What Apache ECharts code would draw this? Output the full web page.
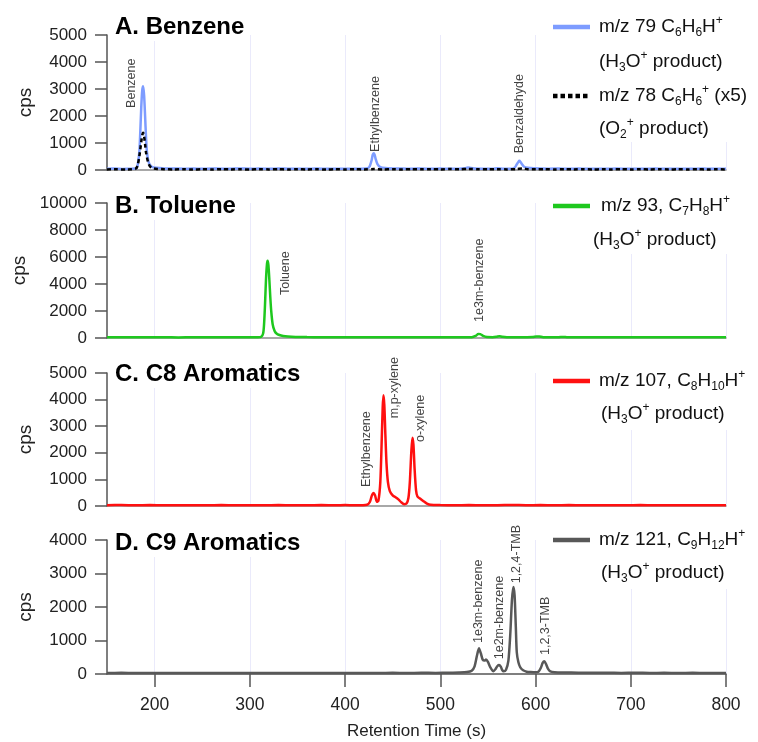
<!DOCTYPE html>
<html><head><meta charset="utf-8">
<script src="https://cdn.jsdelivr.net/npm/echarts@6/dist/echarts.min.js"></script>
<style>html,body{margin:0;padding:0;background:#fff}#c{width:758px;height:742px}</style>
</head><body><div id="c"></div>
<script>
// ---------- DATA ----------
const xTicks = [200, 300, 400, 500, 600, 700, 800];
const panelTitles = ['A. Benzene', 'B. Toluene', 'C. C8 Aromatics', 'D. C9 Aromatics'];
const yMax = [5000, 10000, 5000, 4000];
const yStep = [1000, 2000, 1000, 1000];

// Panel A: m/z 79 (H3O+ product)
const m79 = [[150,45],[158,52],[166,40],[174,48],[180,55],[182,150],[184,700],[185,1450],[186,2350],[187,2950],[188,3100],[189,2750],[190,2000],[191,1200],[192,650],[194,260],[197,120],[202,80],[210,60],[220,55],[230,48],[240,52],[250,44],[260,56],[270,47],[280,50],[290,58],[300,46],[310,52],[320,44],[330,55],[340,47],[350,50],[360,45],[370,52],[380,48],[390,44],[400,50],[410,46],[418,48],[424,70],[426,150],[428,380],[429,560],[430,620],[431,570],[432,420],[434,220],[437,110],[442,75],[450,58],[460,52],[470,48],[480,55],[490,46],[500,52],[510,44],[520,50],[526,68],[529,95],[532,72],[536,55],[545,50],[555,48],[560,62],[565,50],[575,48],[578,80],[580,190],[582,300],[583,340],[584,310],[586,200],[588,120],[592,85],[598,65],[606,56],[615,50],[625,54],[635,46],[645,52],[655,48],[665,50],[675,45],[685,53],[695,47],[705,50],[715,44],[725,52],[735,46],[745,50],[755,48],[765,45],[775,51],[785,46],[795,48],[800,45]];
// Panel A: m/z 78 x5 (O2+ product)
const m78x5 = [[150,20],[160,28],[170,18],[176,25],[180,45],[182,150],[184,520],[186,1050],[187,1290],[188,1380],[189,1240],[190,950],[191,650],[193,300],[195,140],[198,70],[203,40],[210,30],[220,22],[230,30],[240,18],[250,28],[260,20],[270,32],[280,22],[290,26],[300,18],[310,30],[320,22],[330,28],[340,20],[350,30],[360,22],[370,26],[380,18],[390,28],[400,22],[410,30],[420,20],[430,35],[440,22],[450,28],[460,20],[470,32],[480,24],[490,30],[500,22],[510,35],[520,25],[530,40],[540,28],[550,24],[560,30],[570,22],[580,35],[586,55],[592,30],[600,24],[610,30],[620,20],[630,28],[640,22],[650,30],[660,20],[670,26],[680,22],[690,30],[700,20],[710,28],[720,22],[730,30],[740,20],[750,26],[760,22],[770,30],[780,20],[790,26],[800,22]];
// Panel B: m/z 93
const m93 = [[150,50],[165,55],[180,48],[195,52],[210,50],[225,46],[240,52],[255,48],[270,50],[285,47],[300,52],[308,55],[312,90],[314,350],[315,1100],[316,2600],[317,4400],[318,5500],[318.7,5730],[319.5,5400],[320.5,4300],[321.5,3000],[322.5,1950],[324,1000],[326,520],[328,330],[331,220],[335,150],[340,110],[348,80],[360,65],[375,55],[390,50],[405,52],[420,48],[435,50],[450,47],[465,52],[480,48],[495,50],[510,48],[525,52],[533,60],[537,150],[540,300],[542,290],[545,150],[549,70],[555,60],[559,90],[562,130],[565,90],[570,60],[580,55],[590,58],[597,70],[601,120],[604,110],[608,60],[615,55],[624,55],[629,80],[633,55],[645,50],[660,48],[675,52],[690,47],[705,50],[720,48],[735,52],[750,47],[765,50],[780,48],[800,50]];
// Panel C: m/z 107
const m107 = [[150,30],[165,35],[180,28],[195,33],[210,30],[225,26],[240,32],[255,28],[270,34],[285,27],[300,32],[315,29],[330,33],[345,28],[360,30],[375,34],[390,28],[400,35],[410,30],[418,32],[423,45],[426,150],[428,380],[429.8,490],[431.5,400],[433.4,160],[435,200],[437,900],[438.5,2500],[439.5,3700],[440.3,4160],[441.2,3800],[442.3,2700],[443.5,1600],[445,900],[447,560],[450,400],[453,330],[456,250],[459,140],[462,70],[464.5,90],[466.5,300],[468,900],[469.5,2000],[470.7,2570],[471.8,2300],[473,1400],[474.5,600],[476,360],[479,270],[482,190],[486,90],[490,45],[500,35],[515,30],[530,34],[545,28],[560,32],[575,36],[590,30],[605,34],[620,28],[635,33],[650,30],[665,27],[680,32],[695,29],[710,33],[725,28],[740,31],[755,27],[770,32],[785,29],[800,30]];
// Panel D: m/z 121
const m121 = [[150,30],[165,34],[180,28],[195,32],[210,30],[225,27],[240,33],[255,29],[270,31],[285,27],[300,32],[315,28],[330,33],[345,29],[360,31],[375,27],[390,32],[405,28],[420,33],[435,30],[450,34],[465,31],[480,35],[495,33],[510,38],[520,45],[528,60],[533,100],[536,230],[538.5,550],[540.6,770],[542.5,620],[544.5,430],[546.5,400],[548,430],[550,360],[552.5,200],[555.8,80],[558,150],[560,240],[561.7,270],[563.5,220],[565,120],[566.5,80],[569,130],[571.5,400],[573.5,1200],[575.2,2200],[576.7,2600],[578,2350],[579.3,1400],[580.3,650],[582,350],[584,200],[587,110],[590.7,70],[595,60],[600,55],[603,70],[605.5,180],[607.5,330],[609.2,380],[611,300],[613,160],[615.5,80],[620,55],[630,45],[645,40],[660,36],[675,38],[690,33],[705,36],[720,32],[735,35],[750,31],[765,34],[780,30],[800,32]];

// Peak labels
const labNamesA = ['Benzene', 'Ethylbenzene', 'Benzaldehyde'];
const labXA = [175.5, 431.6, 583];
const labYA = [2300, 670, 620];
const labNamesB = ['Toluene', '1e3m-benzene'];
const labXB = [338, 541.7];
const labYB = [3180, 1190];
const labNamesC = ['Ethylbenzene', 'm,p-xylene', 'o-xylene'];
const labXC = [422.8, 451.5, 479.5];
const labYC = [714, 3300, 2406];
const labNamesD = ['1e3m-benzene', '1e2m-benzene', '1,2,4-TMB', '1,2,3-TMB'];
const labXD = [540, 562, 580, 610.6];
const labYD = [925, 440, 2707, 567];

// ---------- STYLE / LAYOUT ----------
const FF = '"Liberation Sans", Arial, Helvetica, sans-serif';
const C_BLUE = '#7d9cff', C_GREEN = '#1ec81e', C_RED = '#ff1010', C_GRAY = '#585858';
const gridTops = [35, 203, 373, 540];
const gridHeights = [135, 135, 133, 134];
const titleTops = [13, 192, 360, 529];

const grids = gridTops.map((t, i) => ({ left: 107, width: 619, top: t, height: gridHeights[i] }));

const xAxes = gridTops.map((t, i) => ({
  type: 'value', gridIndex: i, min: 150, max: 800,
  name: i === 3 ? 'Retention Time (s)' : '',
  nameLocation: 'middle', nameGap: 49,
  nameTextStyle: { fontSize: 17, color: '#222', fontFamily: FF },
  axisLine: { show: true, lineStyle: { color: i === 3 ? '#555' : '#8c8c8c', width: 1.5 } },
  axisTick: { show: i === 3, customValues: xTicks, length: 13, lineStyle: { color: '#555', width: 1.5 } },
  axisLabel: { show: i === 3, customValues: xTicks, fontSize: 17.5, color: '#222', margin: 22, fontFamily: FF },
  splitLine: { show: true, lineStyle: { color: '#eaeafb', width: 1 } }
}));

const yAxes = gridTops.map((t, i) => ({
  type: 'value', gridIndex: i, min: 0, max: yMax[i], interval: yStep[i],
  name: 'cps', nameLocation: 'middle', nameGap: 72,
  nameTextStyle: { fontSize: 19, color: '#222', fontFamily: FF },
  axisLine: { show: true, lineStyle: { color: '#555', width: 1.5 } },
  axisTick: { show: true, inside: false, length: 12, lineStyle: { color: '#555', width: 1.5 } },
  axisLabel: { fontSize: 17, color: '#222', margin: 20, fontFamily: FF, formatter: v => String(v) },
  splitLine: { show: false }
}));

function lineSeries(data, idx, color, width, type) {
  return {
    type: 'line', xAxisIndex: idx, yAxisIndex: idx, data: data,
    symbol: 'none', smooth: 0.25, animation: false, silent: true,
    lineStyle: { color: color, width: width, type: type || 'solid' }, z: 3
  };
}
function labelSeries(names, xs, ys, idx) {
  return {
    type: 'scatter', xAxisIndex: idx, yAxisIndex: idx, symbolSize: 0, silent: true, animation: false, z: 6,
    data: xs.map((x, i) => ({ value: [x, ys[i]], name: names[i] })),
    label: { show: true, formatter: '{b}', rotate: 90, position: [0, 0], align: 'left', verticalAlign: 'middle',
      fontSize: 12.5, color: '#111', fontFamily: FF }
  };
}

const series = [
  lineSeries(m79, 0, C_BLUE, 2.5),
  lineSeries(m78x5, 0, '#000', 2.5, [4, 3]),
  lineSeries(m93, 1, C_GREEN, 2.5),
  lineSeries(m107, 2, C_RED, 2.5),
  lineSeries(m121, 3, C_GRAY, 2.5),
  labelSeries(labNamesA, labXA, labYA, 0),
  labelSeries(labNamesB, labXB, labYB, 1),
  labelSeries(labNamesC, labXC, labYC, 2),
  labelSeries(labNamesD, labXD, labYD, 3)
];

const titles = panelTitles.map((t, i) => ({
  text: t, left: 112, top: titleTops[i], padding: [2, 3, 2, 3], backgroundColor: '#fff',
  textStyle: { fontSize: 24, fontWeight: 'bold', color: '#000', fontFamily: FF }
}));

// legend boxes (graphic)
const rich = {
  m: { fontSize: 19, fill: '#111', fontFamily: FF, lineHeight: 24, verticalAlign: 'middle' },
  b: { fontSize: 12, fill: '#111', fontFamily: FF, lineHeight: 12, verticalAlign: 'bottom' },
  t: { fontSize: 12, fill: '#111', fontFamily: FF, lineHeight: 12, verticalAlign: 'top' }
};
function txt(x, y, s) {
  return { type: 'text', x: x, y: y, z: 21, silent: true,
    style: { text: s, rich: rich, verticalAlign: 'middle', align: 'left', fill: '#111', fontSize: 19, fontFamily: FF } };
}
function box(x, y, w, h) {
  return { type: 'rect', z: 20, silent: true, shape: { x: x, y: y, width: w, height: h }, style: { fill: '#fff' } };
}
function sample(y, color, dash) {
  return { type: 'line', z: 21, silent: true, shape: { x1: 553, y1: y, x2: 590, y2: y },
    style: { stroke: color, lineWidth: 4.5, lineDash: dash || null } };
}
const graphic = [
  box(552, 7, 206, 135),
  sample(27, C_BLUE), txt(599, 27, '{m|m/z 79 C}{b|6}{m|H}{b|6}{m|H}{t|+}'),
  txt(599, 62, '{m|(H}{b|3}{m|O}{t|+}{m| product)}'),
  sample(96, '#000', [4.5, 3]), txt(599, 96, '{m|m/z 78 C}{b|6}{m|H}{b|6}{t|+}{m| (x5)}'),
  txt(599, 129, '{m|(O}{b|2}{t|+}{m| product)}'),

  box(553, 187, 185, 67),
  sample(206, C_GREEN), txt(601, 206, '{m|m/z 93, C}{b|7}{m|H}{b|8}{m|H}{t|+}'),
  txt(593, 240, '{m|(H}{b|3}{m|O}{t|+}{m| product)}'),

  box(552, 360, 206, 70),
  sample(381, C_RED), txt(599, 381, '{m|m/z 107, C}{b|8}{m|H}{b|10}{m|H}{t|+}'),
  txt(601, 414, '{m|(H}{b|3}{m|O}{t|+}{m| product)}'),

  box(552, 521, 206, 68),
  sample(540, C_GRAY), txt(599, 540, '{m|m/z 121, C}{b|9}{m|H}{b|12}{m|H}{t|+}'),
  txt(601, 573, '{m|(H}{b|3}{m|O}{t|+}{m| product)}')
];

const chart = echarts.init(document.getElementById('c'), null, { renderer: 'canvas' });
chart.setOption({
  animation: false,
  backgroundColor: '#fff',
  textStyle: { fontFamily: FF },
  title: titles,
  grid: grids,
  xAxis: xAxes,
  yAxis: yAxes,
  series: series,
  graphic: graphic
});
</script>
</body></html>
